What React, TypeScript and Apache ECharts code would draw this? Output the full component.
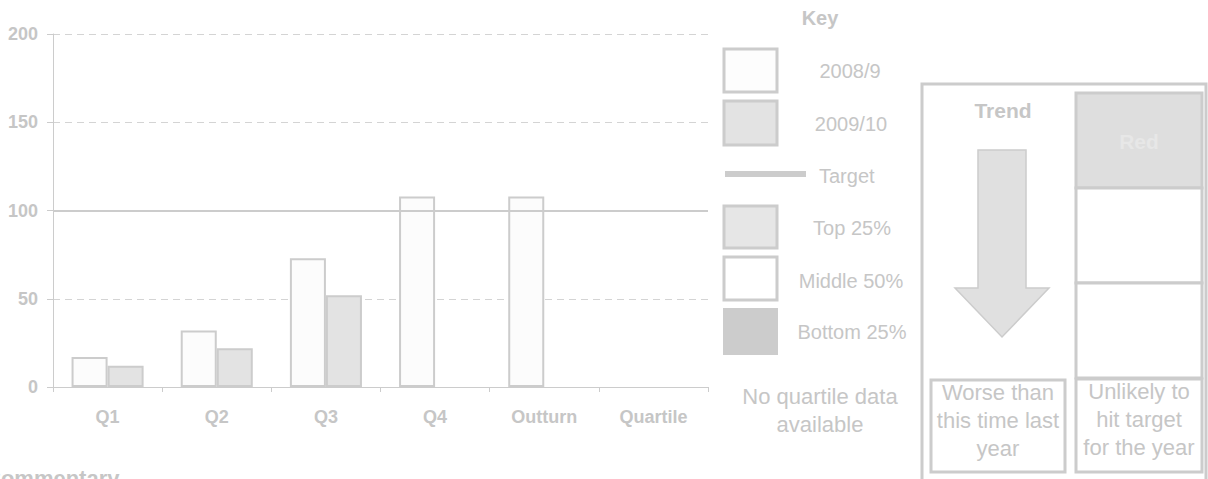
import React, { useEffect, useRef } from "react";
import * as echarts from "echarts";

const categories = ["Q1", "Q2", "Q3", "Q4", "Outturn", "Quartile"];
const values2008 = [17, 32, 73, 108, 108, null];
const values2009 = [12, 22, 52, null, null, null];
const targetValue = 100;
const yMin = 0;
const yMax = 200;
const yInterval = 50;

const keyTitle = "Key";
const keyLabels = ["2008/9", "2009/10", "Target", "Top 25%", "Middle 50%", "Bottom 25%"];
const noQuartileLines = ["No quartile data", "available"];
const trendTitle = "Trend";
const ragLabel = "Red";
const trendTextLines = ["Worse than", "this time last", "year"];
const ragTextLines = ["Unlikely to", "hit target", "for the year"];
const commentaryTitle = "Commentary";

const GREY = "#cccccc";
const TEXT = "#c6c6c6";
const FONT = "'Liberation Sans', Arial, sans-serif";

function txt(text: string, x: number, y: number, size: number, opts: any = {}) {
  return {
    type: "text",
    silent: true,
    style: {
      text,
      x,
      y,
      fill: opts.fill || TEXT,
      fontSize: size,
      fontWeight: opts.bold ? "bold" : "normal",
      fontFamily: FONT,
      align: opts.align || "center",
      textAlign: opts.align || "center",
      verticalAlign: "middle",
      textVerticalAlign: "middle",
    },
  };
}

function box(x: number, y: number, w: number, h: number, fill: string, lw = 2.5, stroke = GREY) {
  return {
    type: "rect",
    silent: true,
    shape: { x, y, width: w, height: h },
    style: { fill, stroke, lineWidth: lw },
  };
}

export default function App() {
  const ref = useRef<HTMLDivElement>(null);

  useEffect(() => {
    if (!ref.current) return;
    const chart = echarts.init(ref.current, null, { renderer: "svg" });

    const graphic: any[] = [];
    // Key
    graphic.push(txt(keyTitle, 820, 18, 20, { bold: true }));
    graphic.push(box(724, 49, 53, 43, "#fdfdfd", 3));
    graphic.push(txt(keyLabels[0], 850, 71, 20));
    graphic.push(box(724, 101, 53, 44, "#e3e3e3", 3));
    graphic.push(txt(keyLabels[1], 851, 124, 20));
    graphic.push({ type: "rect", silent: true, shape: { x: 725, y: 171, width: 81, height: 6 }, style: { fill: GREY } });
    graphic.push(txt(keyLabels[2], 819, 176, 20, { align: "left" }));
    graphic.push(box(724, 206, 53, 42, "#e6e6e6", 3));
    graphic.push(txt(keyLabels[3], 852, 228, 20));
    graphic.push(box(724, 257, 53, 43, "#ffffff", 3));
    graphic.push(txt(keyLabels[4], 851, 281, 20));
    graphic.push({ type: "rect", silent: true, shape: { x: 723, y: 308, width: 55, height: 47 }, style: { fill: GREY } });
    graphic.push(txt(keyLabels[5], 852, 332, 20));
    graphic.push(txt(noQuartileLines[0], 820, 396, 22));
    graphic.push(txt(noQuartileLines[1], 820, 424, 22));

    // Right panel
    graphic.push(box(922, 84, 284, 400, "#ffffff", 3));
    graphic.push(txt(trendTitle, 1003, 110, 21, { bold: true }));
    graphic.push({
      type: "polygon",
      silent: true,
      shape: {
        points: [
          [978, 150],
          [1026, 150],
          [1026, 288],
          [1049, 288],
          [1002, 337],
          [955, 288],
          [978, 288],
        ],
      },
      style: { fill: "#e0e0e0", stroke: GREY, lineWidth: 1.5 },
    });
    graphic.push(box(931, 380, 134, 92, "#ffffff", 3));
    trendTextLines.forEach((t, i) => graphic.push(txt(t, 998, 392 + i * 28, 22)));

    graphic.push(box(1076, 93, 126, 95, "#dedede", 3));
    graphic.push(txt(ragLabel, 1139, 141, 21, { bold: true, fill: "#e7e7e7" }));
    graphic.push(box(1076, 188, 126, 95, "#ffffff", 3));
    graphic.push(box(1076, 283, 126, 95, "#ffffff", 3));
    graphic.push(box(1076, 379, 126, 93, "#ffffff", 3));
    ragTextLines.forEach((t, i) => graphic.push(txt(t, 1139, 391 + i * 28, 22)));

    // Commentary heading (cut at bottom, as in the reference)
    graphic.push(txt(commentaryTitle, -15, 478, 22, { bold: true, align: "left" }));

    chart.setOption({
      animation: false,
      backgroundColor: "#ffffff",
      grid: { left: 53, right: 500, top: 34, bottom: 92, containLabel: false },
      xAxis: {
        type: "category",
        data: categories,
        axisLine: { lineStyle: { color: GREY, width: 1 } },
        axisTick: { show: true, length: 5, lineStyle: { color: GREY } },
        axisLabel: {
          color: TEXT,
          fontSize: 18,
          fontWeight: "bold",
          fontFamily: FONT,
          margin: 21,
        },
        splitLine: { show: false },
      },
      yAxis: {
        type: "value",
        min: yMin,
        max: yMax,
        interval: yInterval,
        axisLine: { show: true, lineStyle: { color: GREY, width: 1 } },
        axisTick: { show: true, length: 6, lineStyle: { color: GREY } },
        axisLabel: {
          color: TEXT,
          fontSize: 18,
          fontWeight: "bold",
          fontFamily: FONT,
          margin: 15,
        },
        splitLine: { show: true, lineStyle: { color: "#d4d4d4", type: [7, 5], width: 1 } },
      },
      series: [
        {
          name: keyLabels[0],
          type: "bar",
          data: values2008,
          barGap: "0%",
          barCategoryGap: "34%",
          itemStyle: { color: "#fcfcfc", borderColor: GREY, borderWidth: 2 },
          markLine: {
            silent: true,
            symbol: ["none", "none"],
            label: { show: false },
            lineStyle: { color: GREY, width: 2, type: "solid" },
            data: [{ yAxis: targetValue }],
          },
        },
        {
          name: keyLabels[1],
          type: "bar",
          data: values2009,
          barGap: "0%",
          barCategoryGap: "34%",
          itemStyle: { color: "#e3e3e3", borderColor: GREY, borderWidth: 2 },
        },
      ],
      graphic,
    });

    return () => chart.dispose();
  }, []);

  return (
    <div
      ref={ref}
      style={{ position: "fixed", left: 0, top: 0, width: 1208, height: 479, background: "#fff" }}
    />
  );
}
